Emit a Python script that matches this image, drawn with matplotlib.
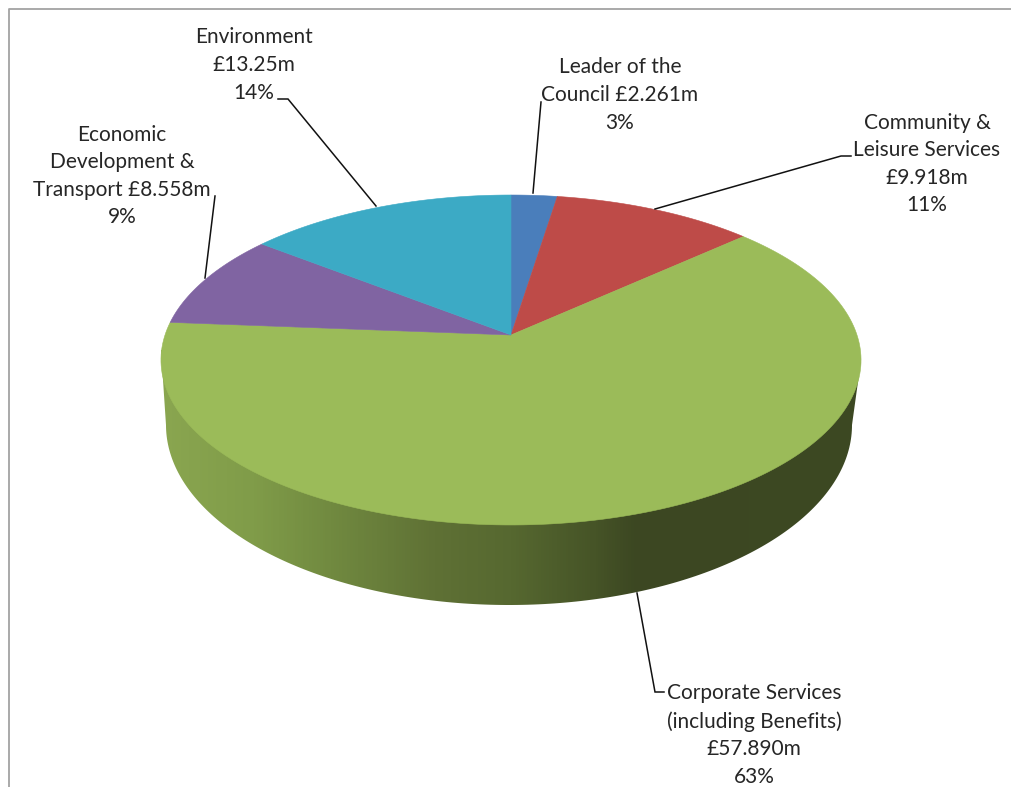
"""Revenue budget by portfolio, drawn as a tilted 3D pie."""
import matplotlib

matplotlib.use("Agg")
import matplotlib.pyplot as plt
import numpy as np
from matplotlib.colors import LinearSegmentedColormap
from matplotlib.patches import Polygon

# Portfolio budgets in GBP millions, clockwise from twelve o'clock
names = [
    "Leader of the\nCouncil",
    "Community &\nLeisure Services",
    "Corporate Services\n(including Benefits)",
    "Economic\nDevelopment &\nTransport",
    "Environment",
]
values = [2.261, 9.918, 57.890, 8.558, 13.25]
amounts = ["£2.261m", "£9.918m", "£57.890m", "£8.558m", "£13.25m"]
shares = ["3%", "11%", "63%", "9%", "14%"]
colors = ["#4a7ebb", "#be4b48", "#9bbb59", "#8064a2", "#3caac5"]

# Amount shares a line with the name on these labels
inline_amount = [True, False, False, True, False]

# Layout in pixels, y going down
APEX = (511, 335)
RADIUS_X = 346
RADIUS_Y = 161.2
PERSPECTIVE = 0.1515
BASE_CENTRE = (509, 425)
BASE_RADII = (343, 180)

label_pos = [(620, 95), (927, 164), (754, 735), (122, 176), (254, 65)]
leaders = [
    [(541, 102), (533, 193)],
    [(851, 156), (841, 156), (655, 209)],
    [(637, 593), (655, 692), (664, 692)],
    [(215, 196), (205, 278)],
    [(278, 99), (288, 99), (376, 206)],
]

side_stops = [
    (0.00, "#8aa650"),
    (0.13, "#809c49"),
    (0.24, "#718a40"),
    (0.39, "#5f7135"),
    (0.50, "#566830"),
    (0.62, "#465427"),
    (0.68, "#3c4722"),
    (1.00, "#3d4923"),
]


def project(theta):
    """Map pie angles (clockwise from the top) onto the tilted disc."""
    depth = 1 + PERSPECTIVE * np.cos(theta)
    x = APEX[0] + RADIUS_X * np.sin(theta) / depth
    y = APEX[1] - RADIUS_Y * np.cos(theta) / depth
    return x, y


fig = plt.figure(figsize=(10.11, 7.87), dpi=100, facecolor="white")
ax = fig.add_axes([0, 0, 1, 1])
ax.axis("off")

# Chart frame, open on the right and at the bottom
ax.plot([8.5, 8.5, 1011], [787, 8.5, 8.5], color="#a3a3a3", lw=1.3, zorder=1)

# Rim: shaded strip clipped to the outline of the pie's wall
t = np.linspace(0, np.pi, 200)
base_x = BASE_CENTRE[0] + BASE_RADII[0] * np.cos(t)
base_y = BASE_CENTRE[1] + BASE_RADII[1] * np.sin(t)
rim_x = np.concatenate([[861], base_x, [161]])
rim_y = np.concatenate([[360], base_y, [350]])
rim = Polygon(np.column_stack([rim_x, rim_y]), closed=True, fc="none", ec="none")
ax.add_patch(rim)
side_cmap = LinearSegmentedColormap.from_list("side", side_stops)
shade = ax.imshow(
    np.linspace(0, 1, 700).reshape(1, -1),
    cmap=side_cmap,
    extent=(161, 861, 610, 340),
    aspect="auto",
    zorder=2,
)
shade.set_clip_path(rim)

# Top face, one polygon per slice
edges = np.radians(np.concatenate([[0], np.cumsum(values)]) / sum(values) * 360)
for start, stop, color in zip(edges[:-1], edges[1:], colors):
    arc = np.linspace(start, stop, 180)
    x, y = project(arc)
    ax.fill(
        np.concatenate([[APEX[0]], x]),
        np.concatenate([[APEX[1]], y]),
        fc=color,
        ec=color,
        lw=0.4,
        zorder=3,
    )

# Leader lines and data labels
for points in leaders:
    xs, ys = zip(*points)
    ax.plot(xs, ys, color="#111111", lw=1.1, zorder=4, solid_joinstyle="miter")

for name, amount, share, inline, pos in zip(names, amounts, shares, inline_amount, label_pos):
    joiner = " " if inline else "\n"
    ax.text(
        pos[0],
        pos[1],
        f"{name}{joiner}{amount}\n{share}",
        ha="center",
        va="center",
        multialignment="center",
        family="Lato",
        fontsize=15,
        color="#262626",
        linespacing=1.47,
        zorder=5,
    )

ax.set_xlim(0, 1011)
ax.set_ylim(787, 0)

fig.savefig("out.png", dpi=100)
